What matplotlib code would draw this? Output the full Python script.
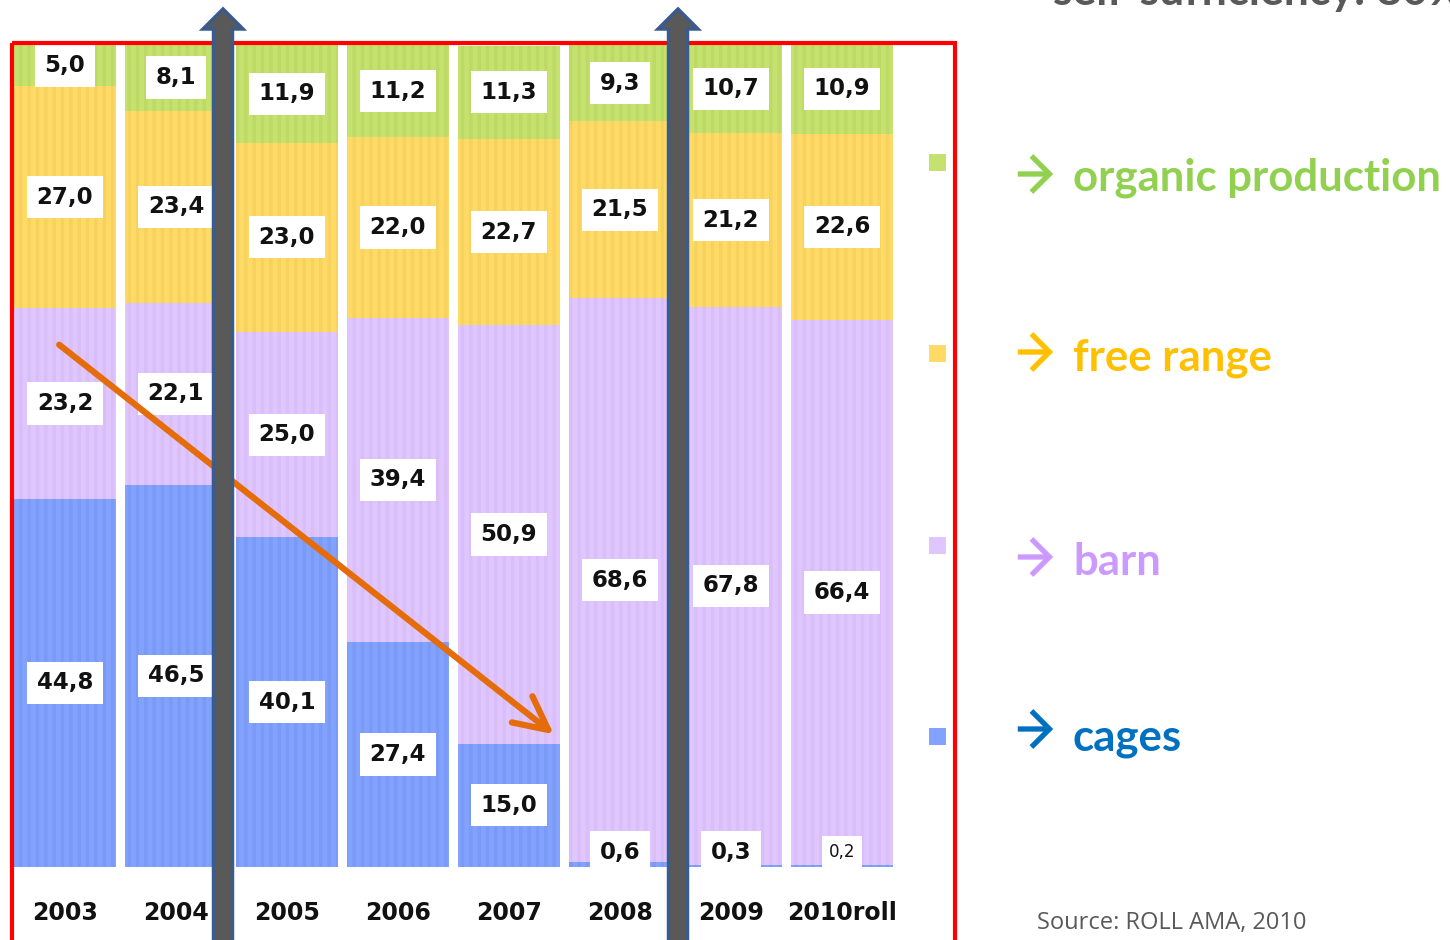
import matplotlib
matplotlib.use("Agg")
import matplotlib.pyplot as plt
import numpy as np
from matplotlib.patches import Rectangle, FancyArrow, FancyArrowPatch

# Data (share in %, bottom to top)
years = ["2003", "2004", "2005", "2006", "2007", "2008", "2009", "2010roll"]
cages = [44.8, 46.5, 40.1, 27.4, 15.0, 0.6, 0.3, 0.2]
barn = [23.2, 22.1, 25.0, 39.4, 50.9, 68.6, 67.8, 66.4]
free_range = [27.0, 23.4, 23.0, 22.0, 22.7, 21.5, 21.2, 22.6]
organic = [5.0, 8.1, 11.9, 11.2, 11.3, 9.3, 10.7, 10.9]

series = [cages, barn, free_range, organic]
names = ["cages", "barn", "free range", "organic production"]
bar_colors = ["#82A2FF", "#E0C6FF", "#FFDB66", "#C6E26E"]
stripe_colors = ["#7B9AF6", "#D9BEF8", "#F8D25E", "#BEDA66"]
text_colors = ["#0070C0", "#CC99FF", "#FFC000", "#92D050"]

plt.rcParams["hatch.linewidth"] = 2.5

W, H = 1450, 940
fig = plt.figure(figsize=(W / 100, H / 100), dpi=100)

# bar axes
ax = fig.add_axes([12 / W, 73 / H, 943 / W, 822 / H])
ax.set_xlim(-0.477, 8.018)
ax.set_ylim(0, 100)
ax.axis("off")

x = np.arange(len(years))
bottom = np.zeros(len(years))
for vals, col, scol in zip(series, bar_colors, stripe_colors):
    vals = np.array(vals)
    ax.bar(x, vals, width=0.92, bottom=bottom, color=col, edgecolor=scol,
           hatch="||", linewidth=0, zorder=2)
    for i, v in enumerate(vals):
        yc = bottom[i] + v / 2
        if v < 1:
            yc = 1.8
            fs = 12 if v < 0.25 else 16.5
            fw = "normal" if v < 0.25 else "bold"
        else:
            fs, fw = 16.5, "bold"
        ax.text(i, yc, f"{v:.1f}".replace(".", ","), ha="center", va="center",
                fontsize=fs, fontweight=fw, color="#111111", zorder=4,
                bbox=dict(boxstyle="square,pad=0.42", fc="white", ec="none"))
    bottom += vals

for i, yr in enumerate(years):
    ax.text(i, -5.6, yr, ha="center", va="center", fontsize=17,
            fontweight="bold", color="#111111", clip_on=False)

# overlay in pixel coordinates for annotations
ov = fig.add_axes([0, 0, 1, 1], zorder=5)
ov.set_xlim(0, W)
ov.set_ylim(H, 0)
ov.axis("off")
ov.patch.set_alpha(0)

# red frame
ov.add_patch(Rectangle((12, 43), 943, 920, fill=False, ec="#FF0000", lw=3,
                       clip_on=False))

# orange trend arrow
ov.add_patch(FancyArrowPatch((57, 343), (556, 736),
                             arrowstyle="->,head_length=2.4,head_width=1.2",
                             mutation_scale=10, color="#E46C0A", lw=4.5,
                             capstyle="round", joinstyle="round"))

# dark vertical arrows
for xa in [223, 678]:
    ov.add_patch(FancyArrow(xa, 960, 0, -951, width=19, head_width=40,
                            head_length=20, length_includes_head=True,
                            fc="#595959", ec="#3B5B8C", lw=2.5))

# legend
sq_y = [736, 545, 353, 162]
arrow_y = [729, 557, 352, 174]
base_y = [750, 575, 370, 191]
for name, col, tcol, sy, ay, by in zip(names, bar_colors, text_colors,
                                       sq_y, arrow_y, base_y):
    ov.add_patch(Rectangle((929, sy - 8.5), 17, 17, fc=col, ec="none"))
    ov.add_patch(FancyArrowPatch((1015, ay), (1056, ay),
                                 arrowstyle="->,head_length=1.3,head_width=1.3",
                                 mutation_scale=10, color=tcol, lw=3.8,
                                 joinstyle="miter", capstyle="butt"))
    ov.text(1073, by, name, ha="left", va="baseline",
            fontsize=31.5, fontweight="bold", color=tcol, family="Lato")

ov.text(1037, 923, "Source: ROLL AMA, 2010", ha="left", va="center",
        fontsize=17, color="#595959", family="Open Sans")

# title, cut off at the top edge as in the original slide
ov.text(1053, 5, "self-sufficiency: 80%", ha="left", va="baseline",
        fontsize=32, fontweight="bold", color="#595959", family="Lato",
        clip_on=False)

fig.savefig("out.png", dpi=100)
